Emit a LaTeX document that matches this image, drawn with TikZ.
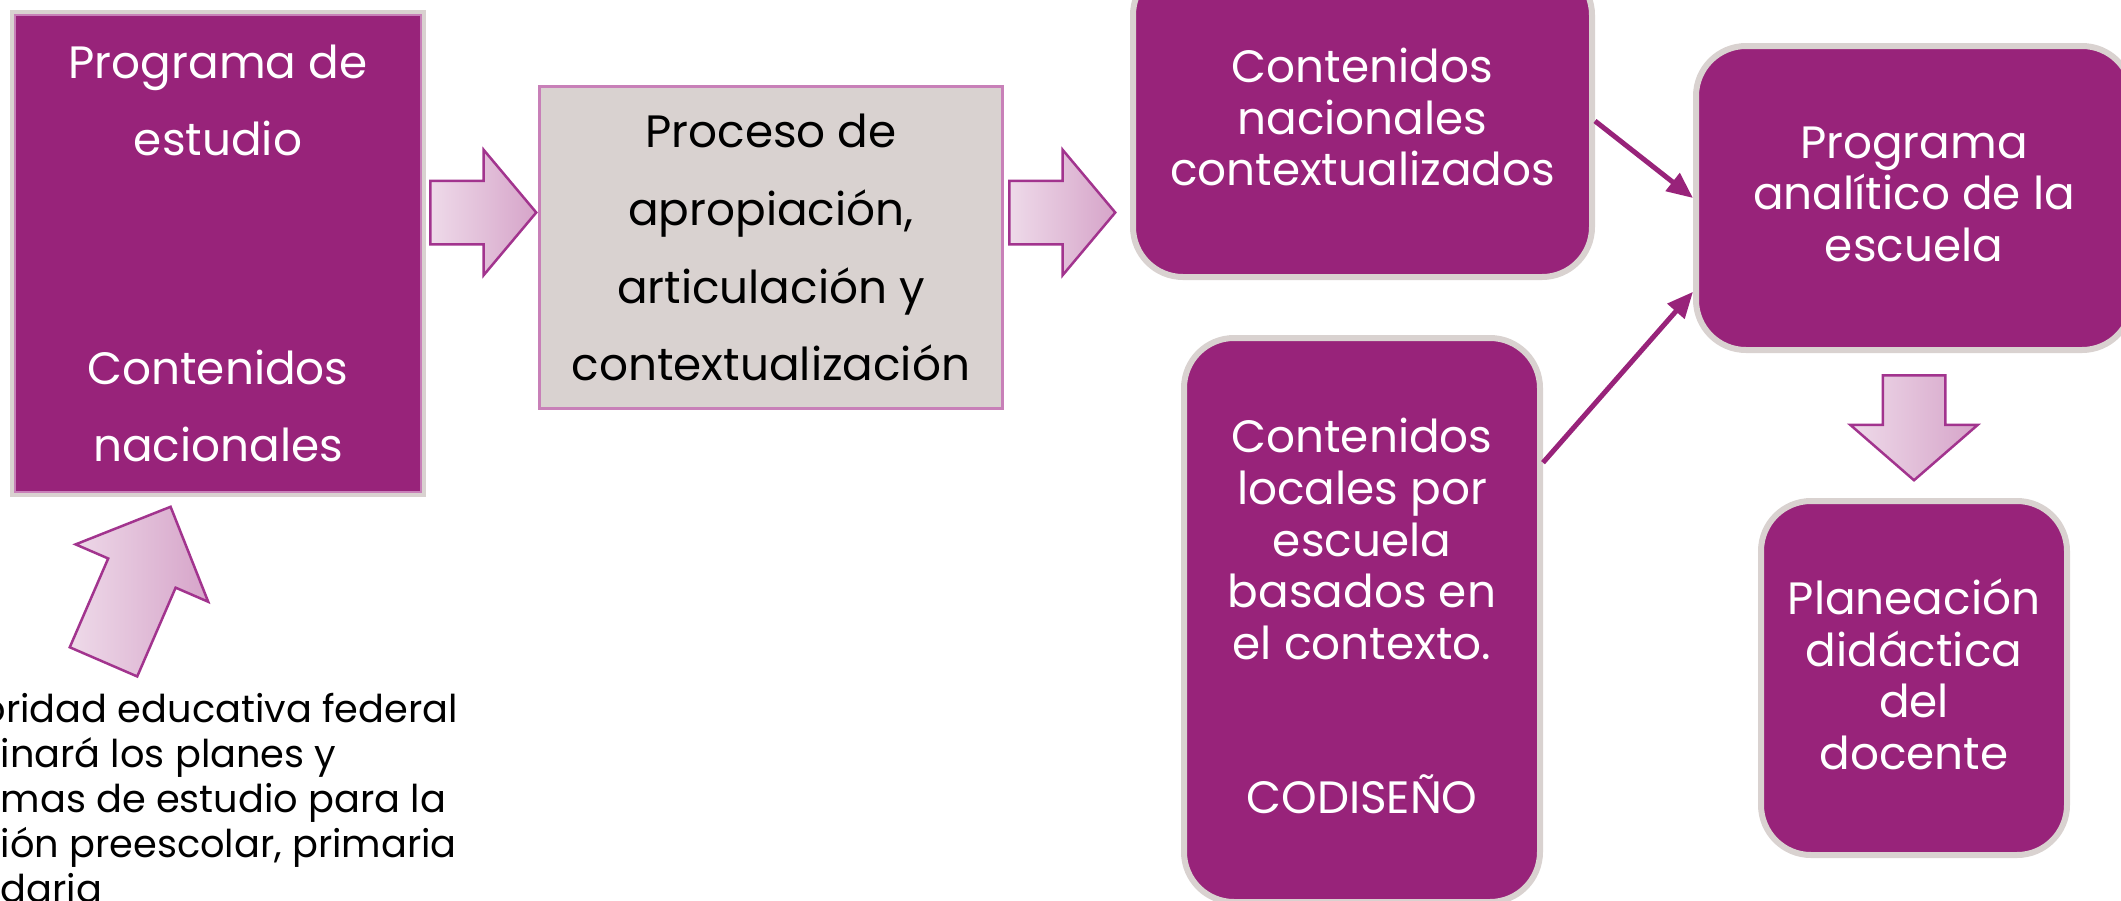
\documentclass[tikz,border=0pt]{standalone}
\usepackage{fontspec}
\setmainfont{Poppins}
\usetikzlibrary{shapes.arrows,arrows.meta}

\definecolor{morado}{RGB}{152,35,122}
\definecolor{gris}{RGB}{217,210,208}
\definecolor{rosa}{RGB}{200,128,184}
\definecolor{borde}{RGB}{162,52,142}
\definecolor{claro}{RGB}{238,218,233}
\definecolor{medio}{RGB}{214,164,201}

\begin{document}
\begin{tikzpicture}[
	caja/.style={fill=morado, text=white, align=center, inner sep=0pt,
		font=\fontsize{12.9}{21.8}\selectfont},
	redonda/.style={caja, draw=gris, line width=0.06cm, rounded corners=0.5cm, text depth=0.08cm,
		font=\fontsize{12.9}{14.66}\selectfont},
	flechota/.style={single arrow, draw=borde, line width=0.025cm, inner xsep=0pt,
		left color=claro, right color=medio, anchor=tail},
	enlace/.style={morado, line width=0.05cm, -{Triangle[length=0.26cm,width=0.22cm]}}]
\clip (0,0) rectangle (21.21,-9);
\node[caja, draw=gris, line width=0.06cm, minimum width=4.10cm, minimum height=4.81cm]
	(prog) at (2.18,-2.535) {Programa de\\estudio\\[1.532cm]Contenidos\\nacionales};
\draw[rosa, line width=0.02cm] ([shift={(0.05,-0.05)}]prog.north west) rectangle ([shift={(-0.05,0.05)}]prog.south east);
\node[caja, fill=gris, draw=rosa, line width=0.03cm, text=black, minimum width=4.63cm, minimum height=3.22cm,
	text depth=-0.08cm, font=\fontsize{12.9}{22.1}\selectfont]
	(proc) at (7.71,-2.475) {Proceso de\\apropiación,\\articulación y\\contextualización};
\node[redonda, minimum width=4.59cm, minimum height=3.12cm] (nac) at (13.625,-1.21)
	{Contenidos\\nacionales\\contextualizados};
\node[redonda, minimum width=4.36cm, minimum height=3.04cm] (ana) at (19.14,-1.98)
	{Programa\\analítico de la\\escuela};
\node[redonda, minimum width=3.56cm, minimum height=5.64cm] (loc) at (13.62,-6.20)
	{Contenidos\\locales por\\escuela\\basados en\\el contexto.\\[1.03cm]CODISEÑO};
\node[redonda, minimum width=3.06cm, minimum height=3.54cm] (plan) at (19.14,-6.78)
	{Planeación\\didáctica\\del\\docente};

\node[flechota, inner ysep=0.305cm, minimum width=1.23cm, minimum height=1.06cm,
	single arrow head extend=0.31cm, single arrow tip angle=100] (a1) at (4.29,-2.125) {};
\node[flechota, inner ysep=0.305cm, minimum width=1.23cm, minimum height=1.06cm,
	single arrow head extend=0.31cm, single arrow tip angle=100] (a2) at (10.08,-2.125) {};
\node[flechota, inner ysep=0.30cm, minimum width=1.25cm, minimum height=1.05cm,
	single arrow head extend=0.325cm, single arrow tip angle=98, rotate=-90] (a3) at (19.14,-3.74) {};
\node[flechota, inner ysep=0.355cm, minimum width=1.42cm, minimum height=1.69cm,
	single arrow head extend=0.355cm, single arrow tip angle=90, rotate=66.6] (a4) at (1.03,-6.63) {};

\draw[enlace] (nac.east) -- (ana.west);
\draw[enlace] (loc.41) -- (ana.203);

\node[anchor=north west, align=left, inner sep=0pt, font=\fontsize{10.9}{12.8}\selectfont]
	(nota) at (0,-6.93) {\hspace*{-0.19cm}oridad educativa federal\\inará los planes y\\mas de estudio para la\\ión preescolar, primaria\\daria};
\end{tikzpicture}
\end{document}
